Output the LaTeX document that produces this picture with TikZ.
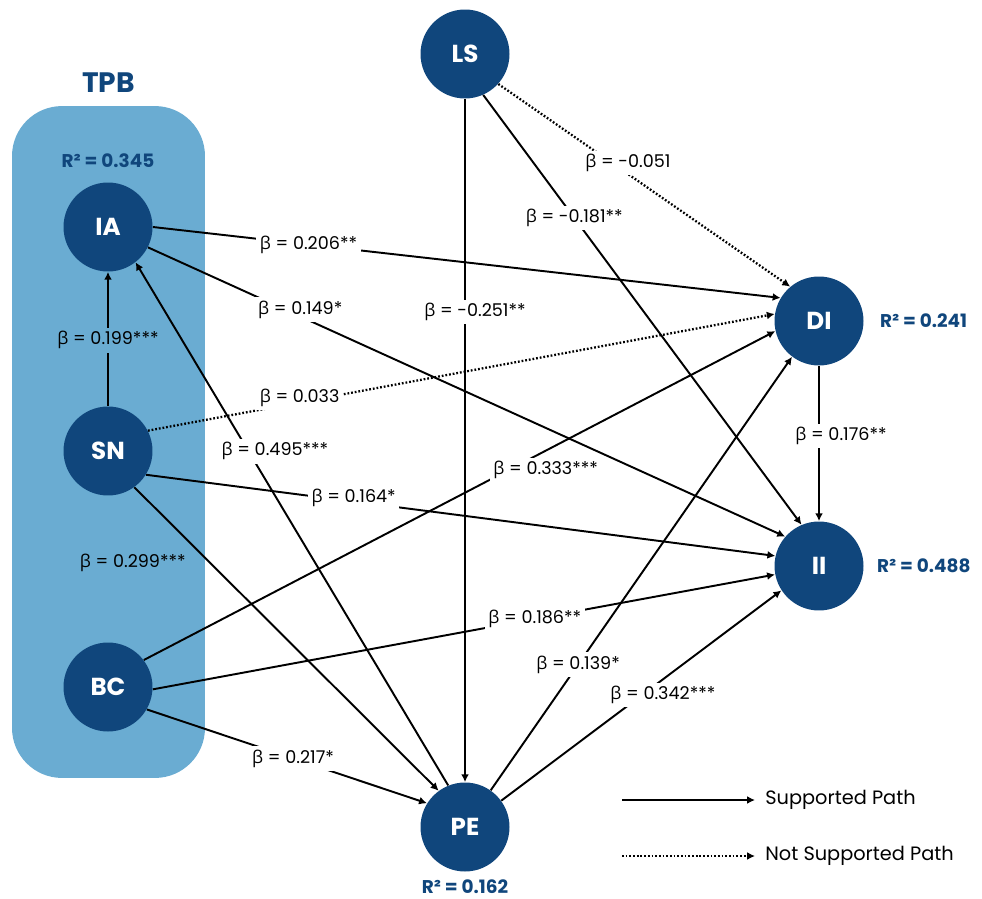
\documentclass[tikz,border=0pt]{standalone}
\usepackage{fontspec}
\setmainfont{Poppins}
\newfontfamily\grkfont{Open Sans}
\usetikzlibrary{arrows.meta, positioning}
\definecolor{navy}{HTML}{10467C}
\definecolor{tpbblue}{HTML}{6AACD2}
\newcommand{\bta}{{\grkfont β}}

\begin{document}
\begin{tikzpicture}[
    x=0.02cm, y=-0.02cm,
    >={Latex[length=4.5pt, width=4.5pt]},
    latent/.style={circle, fill=navy, minimum size=1.78cm, inner sep=0pt,
                   text=white, font=\fontsize{14}{16}\selectfont\bfseries},
    rsq/.style={text=navy, inner sep=0pt,
                font=\fontsize{10.5}{12}\selectfont\bfseries},
    sup/.style={->, line width=1.1pt},
    nosup/.style={->, line width=1.3pt, dash pattern=on 1pt off 1.1pt},
    coef/.style={fill=white, inner sep=2pt, font=\fontsize{10}{12}\selectfont}
  ]
  \useasboundingbox (0,0) rectangle (982,898);

  % TPB group
  \node[fill=tpbblue, rounded corners=1cm, minimum width=3.86cm,
        minimum height=13.44cm] (tpbbox) at (108.5,442) {};
  \node[text=navy, inner sep=0pt, font=\fontsize{16}{18}\selectfont\bfseries,
        above=0.26cm of tpbbox] (tpb) {TPB};

  \node[latent] (LS) at (465,54) {LS};
  \node[latent] (IA) at (108,227) {IA};
  \node[latent] (SN) at (108,451) {SN};
  \node[latent] (BC) at (108,687) {BC};
  \node[latent] (DI) at (819,321) {DI};
  \node[latent] (II) at (819,566) {II};
  \node[latent] (PE) at (465,827) {PE};

  \node[rsq, above=0.28cm of IA] (rIA) {R² = 0.345};
  \node[rsq, right=0.32cm of DI] (rDI) {R² = 0.241};
  \node[rsq, right=0.26cm of II] (rII) {R² = 0.488};
  \node[rsq, below=0.16cm of PE] (rPE) {R² = 0.162};

  % paths
  \draw[sup] (IA.0) -- node[coef, pos=0.248] {\bta{} = 0.206**} (DI.149);
  \draw[sup] (IA.-27) -- node[coef, pos=0.239, yshift=0.14cm] {\bta{} = 0.149*} (II.139);
  \draw[sup] (SN.90) -- node[coef, pos=0.49, fill=tpbblue] {\bta{} = 0.199***} (IA.270);
  \draw[nosup] (SN.27) -- node[coef, pos=0.242, yshift=0.09cm] {\bta{} = 0.033} (DI.171);
  \draw[sup] (SN.-32) -- node[coef, pos=0.33, yshift=0.07cm] {\bta{} = 0.164*} (II.167);
  \draw[sup] (SN.-54) -- node[coef, fill=none, pos=0.248, xshift=-1.54cm] {\bta{} = 0.299***} (PE.126);
  \draw[sup] (BC.37) -- node[coef, pos=0.577, xshift=0.75cm] {\bta{} = 0.333***} (DI.193);
  \draw[sup] (BC.-3) -- node[coef, pos=0.614] {\bta{} = 0.186**} (II.191);
  \draw[sup] (BC.-30) -- node[coef, pos=0.522] {\bta{} = 0.217*} (PE.148);
  \draw[sup] (LS.270) -- node[coef, pos=0.312, xshift=0.2cm] {\bta{} = -0.251**} (PE.90);
  \draw[sup] (LS.-66) -- node[coef, pos=0.286] {\bta{} = -0.181**} (II.113);
  \draw[nosup] (LS.-42) -- node[coef, pos=0.444, yshift=0.22cm] {\bta{} = -0.051} (DI.130);
  \draw[sup] (PE.112) -- node[coef, pos=0.639, xshift=0.53cm] {\bta{} = 0.495***} (IA.308);
  \draw[sup] (PE.55) -- node[coef, pos=0.29] {\bta{} = 0.139*} (DI.233);
  \draw[sup] (PE.36) -- node[coef, pos=0.502, xshift=0.42cm] {\bta{} = 0.342***} (II.213);
  \draw[sup] (DI.270) -- node[coef, pos=0.452, xshift=0.44cm] {\bta{} = 0.176**} (II.90);

  % legend
  \coordinate (lgs0) at (622,800);
  \coordinate (lgn0) at (622,856);
  \node[anchor=west, inner sep=0pt, font=\fontsize{11}{13}\selectfont]
    (lgs) at (765,800) {Supported Path};
  \node[anchor=west, inner sep=0pt, font=\fontsize{11}{13}\selectfont]
    (lgn) at (765,856) {Not Supported Path};
  \draw[sup] (lgs0) -- ([xshift=-0.2cm]lgs.west);
  \draw[nosup] (lgn0) -- ([xshift=-0.2cm]lgn.west);
\end{tikzpicture}
\end{document}
